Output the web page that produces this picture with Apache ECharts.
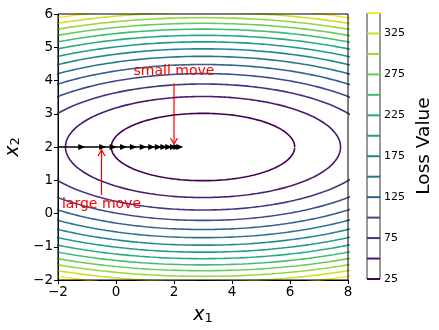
<!DOCTYPE html>
<html>
<head>
<meta charset="utf-8">
<script src="https://cdn.jsdelivr.net/npm/echarts@6/dist/echarts.min.js"></script>
<style>html,body{margin:0;padding:0;background:#fff}#c{width:439px;height:330px}</style>
</head>
<body>
<div id="c"></div>
<script>
// Contour levels of the loss (colorbar range 25..350)
const levels = [25, 50, 75, 100, 125, 150, 175, 200, 225, 250, 275, 300, 325, 350];
// Quadratic loss: L = A*(x1-cx)^2 + B*(x2-cy)^2 + C
const lossCenter = [3, 2];
const lossA = 2, lossB = 19.5, lossC = 5;
// Gradient descent iterates (x1 positions along x2 = 2)
const descentX = [-2, -1.18, -0.46, -0.1, 0.26, 0.6, 0.94, 1.23, 1.46, 1.65, 1.82, 1.98, 2.1, 2.2];
const descentY = 2;
// Annotations
const annoText = ['small move', 'large move'];
const annoTextX = [2.0, -0.5];
const annoTextY = [4.26, 0.26];
const annoFromY = [3.92, 0.56];
const annoToY = [2.0, 2.0];
// Tick values
const xTicks = [-2, 0, 2, 4, 6, 8];
const yTicks = [-2, -1, 0, 1, 2, 3, 4, 5, 6];
const cbTicks = [25, 75, 125, 175, 225, 275, 325];

const viridis = ['#440154','#482475','#414487','#355f8d','#2a788e','#21918c','#22a884','#44bf70','#7ad151','#bddf26','#fde725'];
function hex(c){return [parseInt(c.slice(1,3),16),parseInt(c.slice(3,5),16),parseInt(c.slice(5,7),16)];}
function cmap(t){
  t = Math.max(0, Math.min(1, t));
  const p = t * (viridis.length - 1), i = Math.min(Math.floor(p), viridis.length - 2), f = p - i;
  const a = hex(viridis[i]), b = hex(viridis[i+1]);
  return 'rgb(' + a.map((v,k)=>Math.round(v + (b[k]-v)*f)).join(',') + ')';
}
const lvMin = levels[0], lvMax = levels[levels.length-1];
const FONT = 'DejaVu Sans';
const minus = v => String(v).replace('-', '\u2212');

const series = [];
levels.forEach(L => {
  const rx = Math.sqrt((L - lossC) / lossA), ry = Math.sqrt((L - lossC) / lossB);
  const pts = [];
  for (let d = 0; d <= 360; d += 1) {
    const t = d * Math.PI / 180;
    pts.push([lossCenter[0] + rx * Math.cos(t), lossCenter[1] + ry * Math.sin(t)]);
  }
  const col = cmap((L - lvMin) / (lvMax - lvMin));
  series.push({type: 'line', xAxisIndex: 0, yAxisIndex: 0, data: pts, showSymbol: false, symbol: 'none',
    smooth: false, clip: true, lineStyle: {color: col, width: 1.6}, silent: true, z: 2});
  series.push({type: 'line', xAxisIndex: 1, yAxisIndex: 1, data: [[0, L], [1, L]], symbol: 'none',
    clip: false, lineStyle: {color: col, width: 2}, silent: true, z: 2});
});
series.push({type: 'line', xAxisIndex: 0, yAxisIndex: 0,
  data: descentX.map((x, i) => i === 0 ? {value: [x, descentY], symbol: 'none'} : [x, descentY]),
  symbol: 'triangle', symbolSize: [6, 7], symbolRotate: -90, showSymbol: true, clip: true,
  itemStyle: {color: '#000'}, lineStyle: {color: '#000', width: 1.5}, z: 5});
series.push({type: 'custom', xAxisIndex: 0, yAxisIndex: 0, clip: false, z: 6,
  data: annoText.map((t, i) => [annoTextX[i], annoTextY[i], annoFromY[i], annoToY[i], i]),
  renderItem: function (params, api) {
    const i = api.value(4);
    const tp = api.coord([api.value(0), api.value(1)]);
    const s = api.coord([api.value(0), api.value(2)]);
    const e0 = api.coord([api.value(0), api.value(3)]);
    const dir = Math.sign(e0[1] - s[1]);
    const e = [e0[0], e0[1] - dir * 3];
    const hl = 6, hw = 3.5;
    return {type: 'group', children: [
      {type: 'line', shape: {x1: s[0], y1: s[1], x2: e[0], y2: e[1]}, style: {stroke: '#ff0000', lineWidth: 1.2}},
      {type: 'polyline', shape: {points: [[e[0]-hw, e[1]-dir*hl], [e[0], e[1]], [e[0]+hw, e[1]-dir*hl]]}, style: {stroke: '#ff0000', lineWidth: 1.2, fill: null}},
      {type: 'text', x: tp[0], y: tp[1], style: {text: annoText[i], fill: '#ff0000', font: '14px "' + FONT + '"', align: 'center', verticalAlign: 'middle'}}
    ]};
  }
});

const nameRich = {
  v: {fontFamily: FONT, fontSize: 19, fontStyle: 'italic', color: '#000', lineHeight: 22, verticalAlign: 'bottom'},
  s: {fontFamily: FONT, fontSize: 13, color: '#000', lineHeight: 17, verticalAlign: 'bottom'}
};
const chart = echarts.init(document.getElementById('c'), null, {renderer: 'canvas'});
chart.setOption({
  animation: false,
  backgroundColor: '#fff',
  textStyle: {fontFamily: FONT},
  grid: [
    {left: 58, top: 14, width: 290, height: 266, containLabel: false, outerBoundsMode: 'none', show: true, borderColor: '#000', borderWidth: 1, backgroundColor: 'transparent', z: 10},
    {left: 367, top: 13, width: 13, height: 266, containLabel: false, outerBoundsMode: 'none', show: true, borderColor: '#333', borderWidth: 1, backgroundColor: 'transparent'}
  ],
  xAxis: [
    {type: 'value', gridIndex: 0, min: -2, max: 8, interval: 2, splitLine: {show: false},
      axisLine: {show: true, onZero: false, lineStyle: {color: '#000', width: 1}},
      axisTick: {show: true, inside: false, length: 4, lineStyle: {color: '#000'}, customValues: xTicks},
      axisLabel: {color: '#000', fontSize: 13.5, fontFamily: FONT, margin: 5, formatter: minus, customValues: xTicks},
      name: '{v|x}{s|1}', nameLocation: 'middle', nameGap: 23, nameTextStyle: {rich: nameRich}},
    {type: 'value', gridIndex: 1, min: 0, max: 1, show: false}
  ],
  yAxis: [
    {type: 'value', gridIndex: 0, min: -2, max: 6, interval: 1, splitLine: {show: false},
      axisLine: {show: true, onZero: false, lineStyle: {color: '#000', width: 1}},
      axisTick: {show: true, inside: false, length: 4, lineStyle: {color: '#000'}, customValues: yTicks},
      axisLabel: {color: '#000', fontSize: 13.5, fontFamily: FONT, margin: 5, formatter: minus, customValues: yTicks},
      name: '{v|x}{s|2}', nameLocation: 'middle', nameRotate: 90, nameGap: 27, nameTextStyle: {rich: nameRich}},
    {type: 'value', gridIndex: 1, min: 25, max: 350, interval: 25, position: 'right', splitLine: {show: false},
      axisLine: {show: false},
      axisTick: {show: true, inside: false, length: 3.5, lineStyle: {color: '#000'}, customValues: cbTicks},
      axisLabel: {color: '#000', fontSize: 11, fontFamily: FONT, margin: 4, customValues: cbTicks},
      name: 'Loss Value', nameLocation: 'middle', nameRotate: 90, nameGap: 35,
      nameTextStyle: {fontFamily: FONT, fontSize: 18.5, color: '#000', verticalAlign: 'top'}}
  ],
  series: series
});
</script>
</body>
</html>
